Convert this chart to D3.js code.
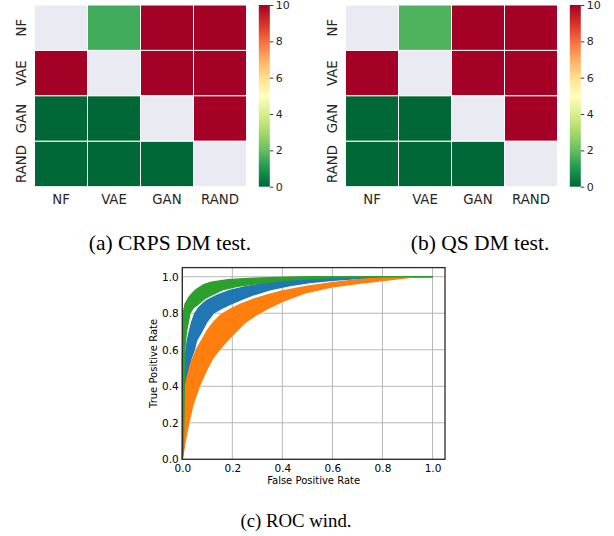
<!DOCTYPE html>
<html>
<head>
<meta charset="utf-8">
<script src="https://cdn.jsdelivr.net/npm/d3@7"></script>
<style>
  body { margin: 0; background: #fff; }
  svg { display: block; }
</style>
</head>
<body>
<div id="chart"></div>
<script>
// ---- data ----
const models = ["NF", "VAE", "GAN", "RAND"]
// DM test matrices, null = diagonal (not tested)
const crpsValues = [
  [null, 1.5, 10, 10],
  [10, null, 10, 10],
  [0, 0, null, 10],
  [0, 0, 0, null]
]
const qsValues = [
  [null, 1.7, 10, 10],
  [10, null, 10, 10],
  [0, 0, null, 10],
  [0, 0, 0, null]
]
const colorbarTicks = [0, 2, 4, 6, 8, 10]
const rocTicks = [0, 0.2, 0.4, 0.6, 0.8, 1.0]

const blueUpper = [[0,0],[0.003,0.3],[0.006,0.45],[0.01,0.55],[0.015,0.6],[0.02,0.65],[0.028,0.7],[0.037,0.75],[0.05,0.8],[0.065,0.83],[0.08,0.85],[0.1,0.872],[0.14,0.9],[0.19,0.925],[0.25,0.945],[0.35,0.968],[0.43,0.982],[0.51,0.99],[0.6,0.995],[0.7,0.998],[0.8,1],[1,1]]
const blueLower = [[0,0],[0.006,0.15],[0.01,0.3],[0.015,0.4],[0.025,0.5],[0.035,0.55],[0.048,0.6],[0.057,0.65],[0.078,0.7],[0.097,0.75],[0.124,0.8],[0.155,0.825],[0.191,0.849],[0.24,0.877],[0.284,0.9],[0.35,0.928],[0.43,0.952],[0.51,0.968],[0.6,0.98],[0.7,0.99],[0.8,0.997],[1,1]]
const orangeUpper = [[0,0],[0.002,0.1],[0.004,0.2],[0.008,0.3],[0.012,0.4],[0.023,0.47],[0.035,0.53],[0.05,0.58],[0.06,0.61],[0.077,0.65],[0.097,0.7],[0.124,0.75],[0.153,0.79],[0.19,0.822],[0.231,0.849],[0.29,0.88],[0.351,0.905],[0.4,0.922],[0.5,0.948],[0.6,0.968],[0.7,0.984],[0.8,0.994],[0.9,1],[1,1]]
const orangeLower = [[0,0],[0.012,0.1],[0.026,0.2],[0.043,0.3],[0.068,0.4],[0.094,0.48],[0.12,0.55],[0.148,0.6],[0.18,0.65],[0.215,0.7],[0.252,0.75],[0.295,0.79],[0.34,0.825],[0.36,0.838],[0.4,0.865],[0.5,0.915],[0.6,0.945],[0.7,0.963],[0.8,0.979],[0.93,0.999],[1,1]]
const greenUpper = [[0,0],[0,0.5],[0.002,0.78],[0.005,0.81],[0.011,0.85],[0.025,0.885],[0.04,0.91],[0.055,0.93],[0.083,0.955],[0.116,0.97],[0.183,0.984],[0.25,0.99],[0.38,0.997],[0.5,1],[1,1]]
const greenLower = [[0,0],[0.004,0.05],[0.006,0.2],[0.008,0.4],[0.01,0.6],[0.013,0.65],[0.017,0.7],[0.024,0.75],[0.031,0.8],[0.045,0.83],[0.064,0.85],[0.09,0.88],[0.118,0.9],[0.16,0.928],[0.22,0.947],[0.3,0.962],[0.383,0.974],[0.45,0.984],[0.6,0.995],[0.75,0.999],[1,1]]

const bands = [
  { color: "#1f77b4", upper: blueUpper, lower: blueLower },
  { color: "#ff7f0e", upper: orangeUpper, lower: orangeLower },
  { color: "#2ca02c", upper: greenUpper, lower: greenLower }
]

const W = 614, H = 536
const svg = d3.select("#chart").append("svg")
  .attr("width", W).attr("height", H)
  .style("font-family", "'DejaVu Sans', sans-serif")

// RdYlGn reversed, 0 = green, 10 = red
const scheme = d3.schemeRdYlGn[11].slice().reverse()
const color = d3.scaleLinear()
  .domain(d3.range(11))
  .range(scheme)
  .clamp(true)

const drawHeatmap = (left, values, caption, captionX) => {
  const top = 5, width = 212, height = 181.7
  const x = d3.scaleBand().domain(models).range([left, left + width])
  const y = d3.scaleBand().domain(models).range([top, top + height])
  const g = svg.append("g")

  const cells = []
  values.forEach((row, i) => row.forEach((v, j) => cells.push({ row: models[i], col: models[j], v })))

  g.selectAll(".cell").data(cells).enter().append("rect")
    .attr("class", "cell")
    .attr("x", d => x(d.col))
    .attr("y", d => y(d.row))
    .attr("width", x.bandwidth())
    .attr("height", y.bandwidth())
    .attr("fill", d => d.v == null ? "#eaeaf2" : color(d.v))
    .attr("stroke", "#fff")
    .attr("stroke-width", 1)

  g.selectAll(".xlab").data(models).enter().append("text")
    .attr("x", d => x(d) + x.bandwidth() / 2)
    .attr("y", top + height + 16.8)
    .attr("text-anchor", "middle")
    .attr("font-size", 13.3)
    .attr("fill", "#262626")
    .text(d => d)

  g.selectAll(".ylab").data(models).enter().append("text")
    .attr("transform", d => `translate(${left - 8.5},${y(d) + y.bandwidth() / 2}) rotate(-90)`)
    .attr("text-anchor", "middle")
    .attr("font-size", 13.3)
    .attr("fill", "#262626")
    .text(d => d)

  // colorbar
  const cbLeft = left + width + 12.3, cbW = 11
  const cy = d3.scaleLinear().domain([0, 10]).range([top + height, top])
  const gradId = "grad" + Math.round(left)
  const grad = svg.append("defs").append("linearGradient")
    .attr("id", gradId)
    .attr("x1", 0).attr("y1", 1).attr("x2", 0).attr("y2", 0)
  grad.selectAll("stop").data(d3.range(11)).enter().append("stop")
    .attr("offset", d => d / 10)
    .attr("stop-color", d => color(d))
  g.append("rect")
    .attr("x", cbLeft).attr("y", top)
    .attr("width", cbW).attr("height", height)
    .attr("fill", `url(#${gradId})`)

  const axis = g.append("g")
    .attr("transform", `translate(${cbLeft + cbW},0)`)
    .call(d3.axisRight(cy).tickValues(colorbarTicks).tickSize(3.5).tickPadding(2.5).tickFormat(d3.format("d")))
  axis.select(".domain").remove()
  axis.selectAll("line").attr("stroke", "#262626").attr("stroke-width", 0.9)
  axis.selectAll("text")
    .attr("font-size", 11)
    .attr("font-family", "'DejaVu Sans', sans-serif")
    .attr("fill", "#262626")

  svg.append("text")
    .attr("x", captionX).attr("y", 249.5)
    .attr("text-anchor", "middle")
    .attr("font-family", "'Liberation Serif', serif")
    .attr("font-size", 21.5)
    .attr("fill", "#000")
    .text(caption)
}

drawHeatmap(34.5, crpsValues, "(a) CRPS DM test.", 170)
drawHeatmap(345.5, qsValues, "(b) QS DM test.", 480)

// ---- ROC ----
const x0 = 182.3, x1 = 445, yTop = 267.6, yBot = 459.3
const rx = d3.scaleLinear().domain([0, 1.05]).range([x0, x1])
const ry = d3.scaleLinear().domain([0, 1.05]).range([yBot, yTop])
const roc = svg.append("g")

roc.selectAll(".gx").data(rocTicks).enter().append("line")
  .attr("x1", d => rx(d)).attr("x2", d => rx(d))
  .attr("y1", yTop).attr("y2", yBot)
  .attr("stroke", "#b0b0b0").attr("stroke-width", 0.9)
roc.selectAll(".gy").data(rocTicks).enter().append("line")
  .attr("x1", x0).attr("x2", x1)
  .attr("y1", d => ry(d)).attr("y2", d => ry(d))
  .attr("stroke", "#b0b0b0").attr("stroke-width", 0.9)

const line = d3.line().x(d => rx(d[0])).y(d => ry(d[1]))
bands.forEach(b => {
  const poly = b.upper.concat(b.lower.slice().reverse())
  roc.append("path")
    .attr("d", line(poly) + "Z")
    .attr("fill", b.color)
    .attr("stroke", b.color)
    .attr("stroke-width", 1.3)
    .attr("stroke-linejoin", "round")
})

roc.append("rect")
  .attr("x", x0).attr("y", yTop)
  .attr("width", x1 - x0).attr("height", yBot - yTop)
  .attr("fill", "none").attr("stroke", "#2a2a2a").attr("stroke-width", 1.3)

const fmt = d3.format(".1f")
const xa = roc.append("g").attr("transform", `translate(0,${yBot})`)
  .call(d3.axisBottom(rx).tickValues(rocTicks).tickSize(0).tickPadding(5).tickFormat(fmt))
const ya = roc.append("g").attr("transform", `translate(${x0},0)`)
  .call(d3.axisLeft(ry).tickValues(rocTicks).tickSize(0).tickPadding(3.5).tickFormat(fmt))
;[xa, ya].forEach(a => {
  a.select(".domain").remove()
  a.selectAll("text")
    .attr("font-size", 10.5)
    .attr("font-family", "'DejaVu Sans', sans-serif")
    .attr("fill", "#000")
})

roc.append("text")
  .attr("x", rx(0.525)).attr("y", 484)
  .attr("text-anchor", "middle")
  .attr("font-size", 10)
  .text("False Positive Rate")
roc.append("text")
  .attr("transform", `translate(156.5,${(yTop + yBot) / 2}) rotate(-90)`)
  .attr("text-anchor", "middle")
  .attr("font-size", 10)
  .text("True Positive Rate")

svg.append("text")
  .attr("x", 296).attr("y", 527)
  .attr("text-anchor", "middle")
  .attr("font-family", "'Liberation Serif', serif")
  .attr("font-size", 18.8)
  .text("(c) ROC wind.")
</script>
</body>
</html>
